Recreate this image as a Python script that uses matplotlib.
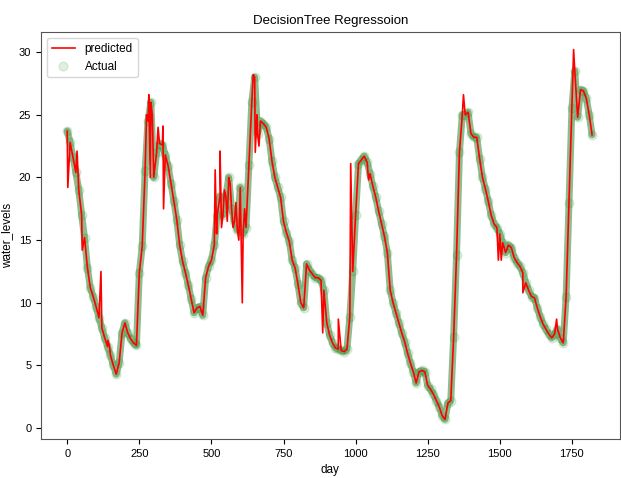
import numpy as np
import matplotlib
matplotlib.use("Agg")
import matplotlib.pyplot as plt

plt.rcParams['font.family'] = ['Liberation Sans', 'DejaVu Sans']

# observed water level, one reading every 10 days (day 0 .. 1820)
days = np.arange(0, 1830, 10)
actual = [
    23.7, 22.8, 21.6, 20.4, 19.0, 17.0, 15.2, 12.8, 11.2, 10.5,
    9.7, 8.8, 8.0, 7.2, 6.5, 5.8, 5.0, 4.3, 5.2, 7.6,
    8.4, 7.6, 7.1, 6.8, 6.6, 12.4, 14.5, 20.5, 24.5, 26.0,
    20.0, 22.0, 22.7, 22.6, 21.8, 20.9, 19.5, 18.1, 16.6, 14.6,
    13.3, 12.4, 11.4, 10.3, 9.2, 9.6, 9.7, 9.0, 12.0, 12.9,
    13.4, 14.6, 17.0, 18.5, 17.0, 18.5, 20.0, 17.5, 16.5, 15.8,
    19.2, 15.5, 16.0, 21.0, 26.0, 28.0, 23.5, 24.5, 24.3, 24.0,
    23.1, 21.3, 20.0, 19.2, 18.4, 16.5, 15.6, 14.9, 13.4, 12.8,
    11.5, 10.0, 9.6, 13.1, 12.6, 12.3, 12.0, 12.0, 11.8, 11.0,
    8.4, 7.4, 6.8, 6.4, 6.3, 6.2, 6.1, 6.3, 8.9, 12.5,
    17.0, 21.1, 21.4, 21.7, 21.2, 20.3, 19.3, 18.4, 17.3, 16.3,
    15.3, 14.0, 11.0, 10.0, 9.2, 8.4, 7.6, 6.9, 6.0, 5.2,
    4.5, 3.6, 4.5, 4.6, 4.5, 3.4, 3.1, 2.7, 2.2, 1.7,
    1.0, 0.7, 2.0, 2.2, 7.3, 13.8, 22.0, 25.0, 25.0, 25.2,
    23.5, 23.2, 23.2, 21.5, 20.0, 19.1, 18.1, 17.0, 16.3, 16.0,
    15.5, 14.8, 14.0, 14.6, 14.4, 13.6, 13.2, 12.9, 12.4, 11.6,
    11.0, 10.5, 10.4, 9.6, 8.9, 8.3, 7.9, 7.5, 7.2, 7.5,
    7.9, 7.2, 6.8, 10.5, 18.0, 25.5, 28.5, 24.8, 27.0, 26.9,
    26.3, 25.0, 23.4,
]

# days where the tree prediction jumps away from the observed curve
spike_days = [2, 34, 52, 117, 141, 146, 275, 283, 288, 295, 305, 315, 332, 334,
              513, 518, 530, 535, 545, 555, 565, 575, 585, 595, 607, 615,
              645, 652, 658, 665, 886, 940, 983, 1045, 1374, 1495, 1505,
              1580, 1697, 1756]
spike_vals = [19.2, 22.1, 14.2, 12.5, 7.0, 6.6, 25.0, 26.6, 20.0, 25.0, 21.0, 24.0, 24.1, 17.5,
              20.6, 15.5, 22.1, 16.0, 19.0, 16.5, 19.5, 16.0, 18.0, 15.0, 10.0, 17.5,
              28.2, 22.0, 25.0, 22.5, 7.6, 8.7, 21.1, 19.8, 26.6, 13.4, 13.4,
              10.8, 8.7, 30.2]

pred_days = np.concatenate([days, spike_days])
pred_vals = np.concatenate([actual, spike_vals])
order = np.argsort(pred_days, kind='stable')
pred_days = pred_days[order]
pred_vals = pred_vals[order]

fig = plt.figure(figsize=(6.21, 4.78), dpi=100)
ax = fig.add_axes([0.066, 0.082, 0.932, 0.851])

# the daily points overlap into a green band, so draw a soft band under the dots
ax.plot(days, actual, color='#1f7a1f', alpha=0.5, lw=5, solid_capstyle='round',
        solid_joinstyle='round')
ax.plot(pred_days, pred_vals, color='red', lw=1.2, label='predicted')
ax.scatter(days, actual, color='g', alpha=0.12, s=40, label='Actual')

ax.set_xlim(-91, 1916)
ax.set_ylim(-0.85, 31.6)
ax.set_title('DecisionTree Regressoion', fontsize=9.5)
ax.set_xlabel('day', fontsize=8.5)
ax.set_ylabel('water_levels', fontsize=8.5)
ax.tick_params(labelsize=8)
for s in ax.spines.values():
    s.set_color('#555555')
ax.legend(loc='upper left', fontsize=8.5)

fig.savefig('out.png', dpi=100)
